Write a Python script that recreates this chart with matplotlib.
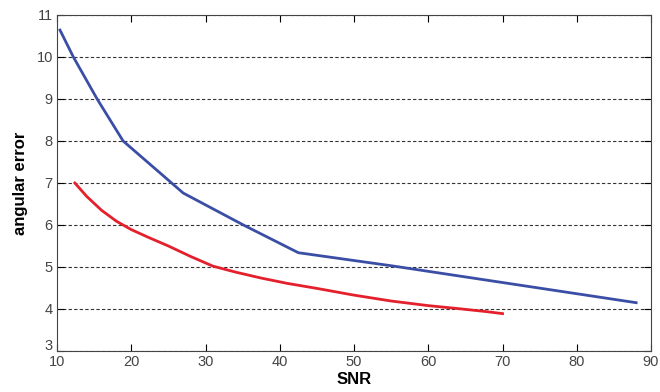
import matplotlib.pyplot as plt
import matplotlib.transforms as mtransforms

# values
snr_blue = [10.4, 12.2, 15.4, 18.9, 27.0, 35.1, 42.5, 55.0, 70.0, 88.0]
err_blue = [10.64, 10.0, 9.0, 8.0, 6.76, 6.0, 5.34, 5.03, 4.63, 4.15]

snr_red = [12.4, 14.0, 16.0, 18.0, 20.0, 22.5, 25.0, 28.0, 31.0, 34.0, 37.4,
           41.0, 45.0, 50.0, 55.0, 60.0, 64.0, 67.7, 70.0]
err_red = [7.0, 6.68, 6.35, 6.09, 5.89, 5.69, 5.5, 5.25, 5.02, 4.88, 4.74,
           4.61, 4.49, 4.33, 4.19, 4.08, 4.01, 3.94, 3.89]

xticks = [10, 20, 30, 40, 50, 60, 70, 80, 90]
yticks = [3, 4, 5, 6, 7, 8, 9, 10, 11]

plt.rcParams['font.family'] = ['Liberation Sans', 'DejaVu Sans']

fig = plt.figure(figsize=(6.6, 3.92), dpi=100)
ax = fig.add_axes([0.0864, 0.1046, 0.9, 0.8572])

ax.plot(snr_blue, err_blue, color='#3b4ea6', lw=2)
ax.plot(snr_red, err_red, color='#e3202b', lw=2)

ax.set_xlim(10, 90)
ax.set_ylim(3, 11)
ax.set_xticks(xticks)
ax.set_yticks(yticks)
ax.tick_params(direction='in', top=True, right=True, labelsize=10.5,
               labelcolor='#444444', length=5, pad=3)
ax.grid(axis='y', linestyle=(0, (3, 2)), color='#333333', lw=0.8)
for s in ax.spines.values():
    s.set_color('#444444')

# the "3" sits a bit higher than the x-axis "10" in the original
lbl = ax.get_yticklabels()[0]
lbl.set_transform(lbl.get_transform() +
                  mtransforms.ScaledTranslation(0, 5 / 72, fig.dpi_scale_trans))

ax.set_xlabel('SNR', fontsize=12, fontweight='bold', labelpad=2)
ax.set_ylabel('angular error', fontsize=12, fontweight='bold', labelpad=6)

fig.savefig('out.png', dpi=100)
